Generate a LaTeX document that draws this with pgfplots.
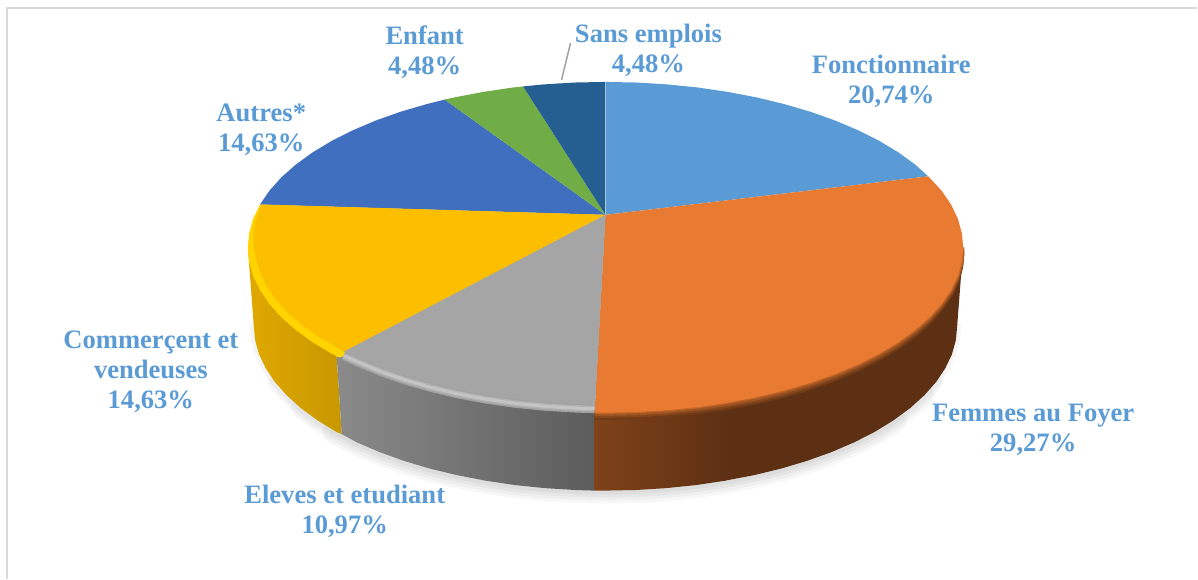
\documentclass[border=0pt]{standalone}
\usepackage{pgfplots}
\pgfplotsset{compat=1.18}
\usepackage{pgfplotstable}
\usepackage{fontspec}
\setmainfont{Liberation Serif}
\definecolor{lab}{HTML}{5B9BD5}
\definecolor{cblue}{HTML}{5B9BD5}
\definecolor{corange}{HTML}{E97A31}
\definecolor{cgray}{HTML}{A5A5A5}
\definecolor{cyellow}{HTML}{FBBE00}
\definecolor{cbright}{HTML}{FFD400}
\definecolor{cdblue}{HTML}{416FC0}
\definecolor{cgreen}{HTML}{70AD47}
\definecolor{cnavy}{HTML}{255E91}
\pgfplotstableread{
x y
958 326
956.7 340.4
952.7 354.7
946 368.7
936.8 382.4
925 395.7
910.8 408.5
894.3 420.6
875.7 432.1
854.9 442.7
832.3 452.4
807.9 461.2
782 468.9
754.8 475.5
726.4 481
697.1 485.4
667.1 488.5
636.7 490.4
606 491
575.3 490.4
544.9 488.5
514.9 485.4
485.6 481
457.2 475.5
430 468.9
404.1 461.2
379.7 452.4
357.1 442.7
336.3 432.1
317.7 420.6
301.2 408.5
287 395.7
275.2 382.4
266 368.7
259.3 354.7
255.3 340.4
254 326
}\outerarc
\pgfplotstableread{
x y
964 247.5
962.6 261.9
958.6 276.2
951.8 290.3
942.4 304.1
930.5 317.4
916 330.25
899.3 342.4
880.2 353.9
859.1 364.5
836.1 374.3
811.3 383.1
785 390.8
757.3 397.5
728.4 403
698.7 407.4
668.2 410.5
637.2 412.4
606 413
595 412.9
}\orangerim
\pgfplotstableread{
x y
344 352
358.2 358.3
380.7 367.7
405 376.2
430.7 383.6
457.9 390.1
486.1 395.4
515.3 399.6
545.1 402.6
575.5 404.4
595 405
}\grayinner
\begin{document}
\begin{tikzpicture}
\begin{axis}[
  scale only axis, width=1198pt, height=579pt,
  xmin=0, xmax=1198, ymin=0, ymax=579, y dir=reverse,
  axis lines=none, clip=false,
  every axis plot/.append style={line join=round}]
% page extent
\addplot[draw=none, fill=none] coordinates {(0,0) (1198,0) (1198,579) (0,579) (0,0)};
% frame
\addplot[color=black!15, line width=2pt] coordinates {(7,579) (7,8) (1198,8)};
% soft shadow, tapered towards its ends
\addplot[black, opacity=0.03, line width=26pt, line cap=round, restrict x to domain=320:900] table {\outerarc};
\addplot[black, opacity=0.03, line width=20pt, line cap=round, restrict x to domain=295:925] table {\outerarc};
\addplot[black, opacity=0.04, line width=14pt, line cap=round, restrict x to domain=272:942] table {\outerarc};
\addplot[black, opacity=0.04, line width=8pt, line cap=round] table {\outerarc};
% side walls
\addplot[draw=none, left color={rgb,255:red,224;green,168;blue,0}, right color={rgb,255:red,200;green,152;blue,0}] coordinates {
(248,247.5) (254,326) (255.3,340.4) (259.3,354.7) (266,368.7) (275.2,382.4) (287,395.7) (301.2,408.5) (317.7,420.6) (336.3,432.1) (342,434.5) (337,357) (300,250) (248,247.5)};
\addplot[draw=none, left color={rgb,255:red,138;green,138;blue,138}, right color={rgb,255:red,92;green,92;blue,92}] coordinates {
(337,357) (342,434.5) (357.1,442.7) (379.7,452.4) (404.1,461.2) (430,468.9) (457.2,475.5) (485.6,481) (514.9,485.4) (544.9,488.5) (575.3,490.4) (595,491) (595,400) (337,357)};
\addplot[draw=none, left color={rgb,255:red,127;green,66;blue,25}, right color={rgb,255:red,94;green,48;blue,19}] coordinates {
(595,400) (595,491) (606,491) (636.7,490.4) (667.1,488.5) (697.1,485.4) (726.4,481) (726.4,380) (595,400)};
\addplot[draw=none, fill={rgb,255:red,94;green,48;blue,19}] coordinates {
(726,380) (726,481) (754.8,475.5) (782,468.9) (807.9,461.2) (832.3,452.4) (854.9,442.7) (875.7,432.1) (894.3,420.6) (910.8,408.5) (925,395.7) (936.8,382.4) (946,368.7) (952.7,354.7) (956.7,340.4) (958,326) (964,247.5) (726,380)};
% orange soft lip on the wall
\addplot[color={rgb,255:red,112;green,58;blue,22}, line width=2.5pt, yshift=-6pt] table {\orangerim};
\addplot[color={rgb,255:red,134;green,70;blue,28}, line width=2.5pt, yshift=-4pt] table {\orangerim};
\addplot[color={rgb,255:red,160;green,84;blue,33}, line width=2.5pt, yshift=-2pt] table {\orangerim};
\addplot[color={rgb,255:red,195;green,102;blue,40}, line width=2.5pt, yshift=0pt] table {\orangerim};
% top surface, rim ellipse
\addplot[draw=none, fill=cblue] coordinates {
(606,215) (606,82) (637.2,82.6) (668.2,84.5) (698.7,87.6) (728.4,92) (757.3,97.5) (785,104.2) (811.3,111.9) (836.1,120.7) (859.1,130.5) (880.2,141.1) (899.3,152.6) (916,164.75) (929,176.5) (606,215)};
\addplot[draw=none, fill=corange] coordinates {
(606,215) (929,176.5) (942.4,190.9) (951.8,204.7) (958.6,218.8) (962.6,233.1) (964,247.5) (962.6,261.9) (958.6,276.2) (951.8,290.3) (942.4,304.1) (930.5,317.4) (916,330.25) (899.3,342.4) (880.2,353.9) (859.1,364.5) (836.1,374.3) (811.3,383.1) (785,390.8) (757.3,397.5) (728.4,403) (698.7,407.4) (668.2,410.5) (637.2,412.4) (606,413) (595,412.9) (606,215)};
\addplot[draw=none, fill={rgb,255:red,138;green,138;blue,138}] coordinates {
(606,215) (595,412.9) (574.8,412.4) (543.8,410.5) (513.3,407.4) (483.6,403) (454.7,397.5) (427,390.8) (400.7,383.1) (375.9,374.3) (352.9,364.5) (340,358) (606,215)};
\addplot[draw=none, fill=cbright] coordinates {
(606,215) (340,358) (331.8,353.9) (312.7,342.4) (296,330.25) (281.5,317.4) (269.6,304.1) (260.2,290.3) (253.4,276.2) (249.4,261.9) (248,247.5) (249.4,233.1) (253.4,218.8) (260.2,204.7) (606,215)};
\addplot[draw=none, fill=cdblue] coordinates {
(606,215) (260.2,204.7) (269.6,190.9) (281.5,177.6) (296,164.75) (312.7,152.6) (331.8,141.1) (352.9,130.5) (375.9,120.7) (400.7,111.9) (427,104.2) (445,99.7) (606,215)};
\addplot[draw=none, fill=cgreen] coordinates {
(606,215) (445,99.7) (454.7,97.5) (483.6,92) (513.3,87.6) (523.5,86.5) (606,215)};
\addplot[draw=none, fill=cnavy] coordinates {
(606,215) (523.5,86.5) (543.8,84.5) (574.8,82.6) (606,82) (606,215)};
% flat part inside the bevels
\addplot[draw=none, fill=cyellow] coordinates {
(606,215) (344,352) (337.5,348) (318.9,337) (302.5,325.3) (288.3,312.9) (276.6,300.1) (267.4,286.8) (260.8,273.2) (256.2,259.4) (254,245.5) (253.8,231.6) (256.5,217.8) (261.5,204.6) (606,215)};
\addplot[color={rgb,255:red,160;green,160;blue,160}, line width=9pt, yshift=-4pt] table {\grayinner};
\addplot[color={rgb,255:red,178;green,178;blue,178}, line width=6pt, yshift=-4pt] table {\grayinner};
\addplot[color={rgb,255:red,196;green,196;blue,196}, line width=3pt, yshift=-4pt] table {\grayinner};
\addplot[draw=none, fill=cgray] coordinates {
(606,215) (344,352) (358.2,358.3) (380.7,367.7) (405,376.2) (430.7,383.6) (457.9,390.1) (486.1,395.4) (515.3,399.6) (545.1,402.6) (575.5,404.4) (595.5,405) (606,215)};
\addplot[color=white, opacity=0.5, line width=0.7pt] coordinates {(606,82) (606,215)};
% leader
\addplot[color=black!35, line width=1.6pt] coordinates {(571,43) (562,80)};
% labels
\node[font=\bfseries\fontsize{26.6}{30}\selectfont, text=lab, align=center, inner sep=0pt] at (axis cs:892,81.5) {Fonctionnaire\\20,74\%};
\node[font=\bfseries\fontsize{26.6}{30}\selectfont, text=lab, align=center, inner sep=0pt] at (axis cs:1034,430.5) {Femmes au Foyer\\29,27\%};
\node[font=\bfseries\fontsize{26.6}{30}\selectfont, text=lab, align=center, inner sep=0pt] at (axis cs:345,511.5) {Eleves et etudiant\\10,97\%};
\node[font=\bfseries\fontsize{26.6}{30}\selectfont, text=lab, align=center, inner sep=0pt] at (axis cs:151,372.5) {Commerçent et\\vendeuses\\14,63\%};
\node[font=\bfseries\fontsize{26.6}{30}\selectfont, text=lab, align=center, inner sep=0pt] at (axis cs:261.5,129.5) {Autres*\\14,63\%};
\node[font=\bfseries\fontsize{26.6}{30}\selectfont, text=lab, align=center, inner sep=0pt] at (axis cs:425,52.5) {Enfant\\4,48\%};
\node[font=\bfseries\fontsize{26.6}{30}\selectfont, text=lab, align=center, inner sep=0pt] at (axis cs:649,50.5) {Sans emplois\\4,48\%};
\end{axis}
\end{tikzpicture}
\end{document}
